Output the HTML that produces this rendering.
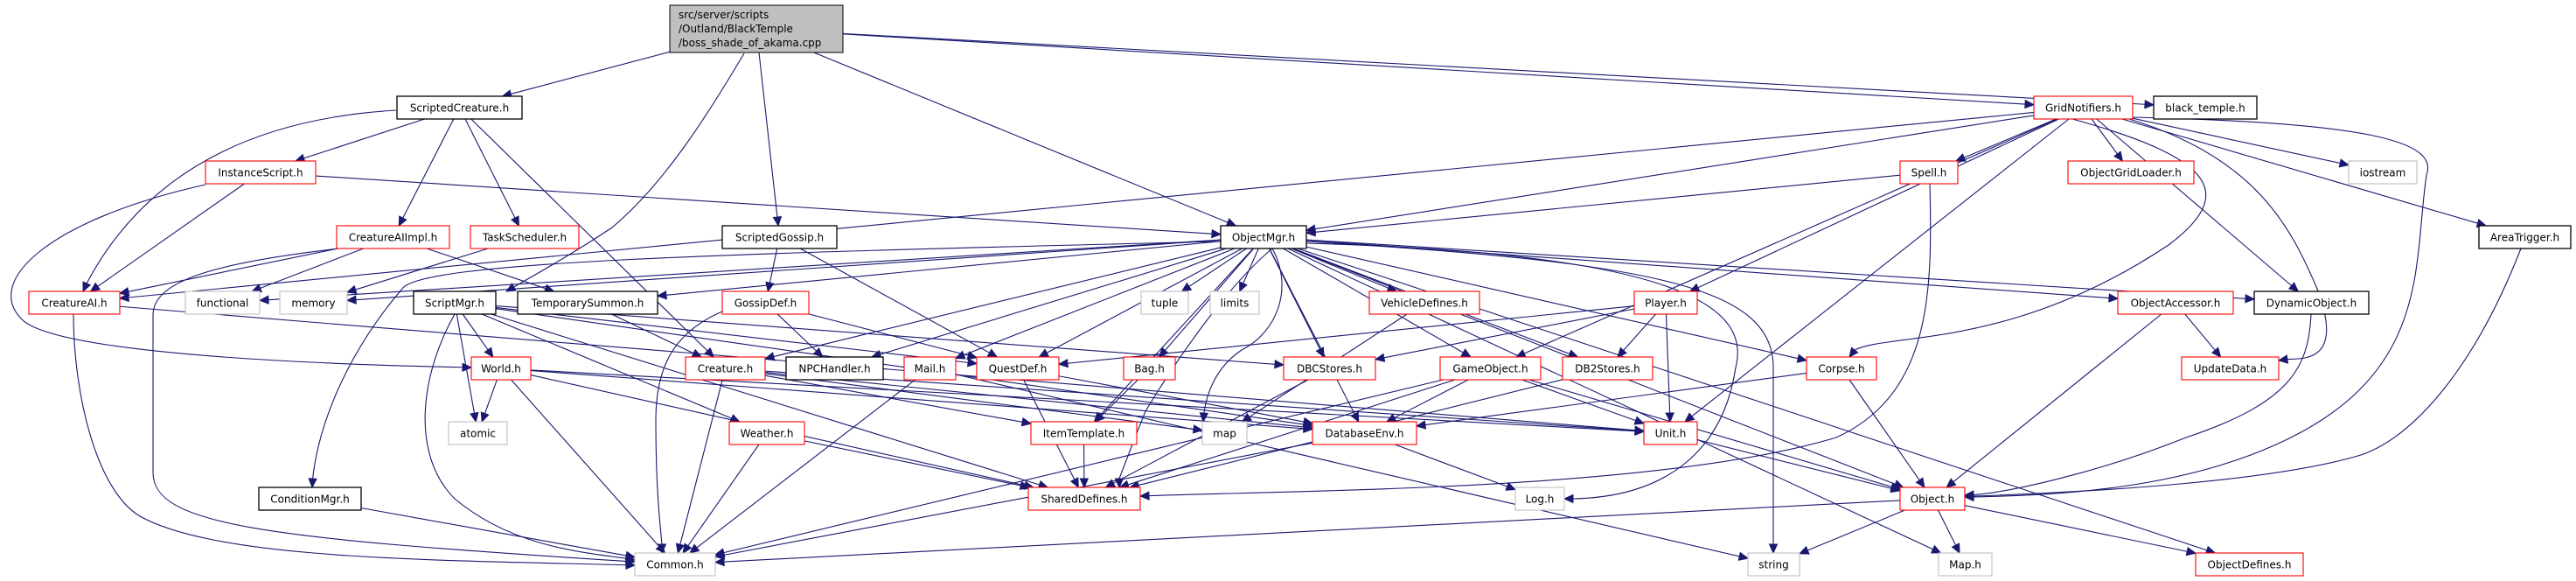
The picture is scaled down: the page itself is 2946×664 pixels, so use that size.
<!DOCTYPE html>
<html><head><meta charset="utf-8">
<style>
html,body{margin:0;padding:0;background:#fff;}
svg{display:block;}
text{font-family:"DejaVu Sans","Liberation Sans",sans-serif;font-size:12px;fill:#000;}
</style></head>
<body>
<svg id="g" width="2946" height="664" viewBox="0 0 2946 664" xmlns="http://www.w3.org/2000/svg">
<g id="edges" fill="none" stroke="#191970" stroke-width="1.1"></g>
<g id="heads" fill="#191970" stroke="#191970"></g>
<g id="boxes"></g>
<rect x="766" y="6" width="198" height="54" fill="#bfbfbf" stroke="#000" stroke-width="1"/>
<text x="776" y="21">src/server/scripts</text>
<text x="776" y="37">/Outland/BlackTemple</text>
<text x="776" y="53">/boss_shade_of_akama.cpp</text>
<g id="labels">
<text id="t_SC">ScriptedCreature.h</text>
<text id="t_IS">InstanceScript.h</text>
<text id="t_CAII">CreatureAIImpl.h</text>
<text id="t_TS">TaskScheduler.h</text>
<text id="t_CAI">CreatureAI.h</text>
<text id="t_fun">functional</text>
<text id="t_mem">memory</text>
<text id="t_SM">ScriptMgr.h</text>
<text id="t_TSum">TemporarySummon.h</text>
<text id="t_World">World.h</text>
<text id="t_atomic">atomic</text>
<text id="t_Cond">ConditionMgr.h</text>
<text id="t_Common">Common.h</text>
<text id="t_SG">ScriptedGossip.h</text>
<text id="t_OM">ObjectMgr.h</text>
<text id="t_tuple">tuple</text>
<text id="t_limits">limits</text>
<text id="t_GD">GossipDef.h</text>
<text id="t_Cre">Creature.h</text>
<text id="t_NPC">NPCHandler.h</text>
<text id="t_Mail">Mail.h</text>
<text id="t_QD">QuestDef.h</text>
<text id="t_Bag">Bag.h</text>
<text id="t_Wea">Weather.h</text>
<text id="t_IT">ItemTemplate.h</text>
<text id="t_map">map</text>
<text id="t_SD">SharedDefines.h</text>
<text id="t_VD">VehicleDefines.h</text>
<text id="t_Player">Player.h</text>
<text id="t_DBC">DBCStores.h</text>
<text id="t_GO">GameObject.h</text>
<text id="t_DB2">DB2Stores.h</text>
<text id="t_Corpse">Corpse.h</text>
<text id="t_DBE">DatabaseEnv.h</text>
<text id="t_Unit">Unit.h</text>
<text id="t_Log">Log.h</text>
<text id="t_string">string</text>
<text id="t_GN">GridNotifiers.h</text>
<text id="t_BT">black_temple.h</text>
<text id="t_Spell">Spell.h</text>
<text id="t_OGL">ObjectGridLoader.h</text>
<text id="t_ios">iostream</text>
<text id="t_AT">AreaTrigger.h</text>
<text id="t_OA">ObjectAccessor.h</text>
<text id="t_DO">DynamicObject.h</text>
<text id="t_UD">UpdateData.h</text>
<text id="t_Obj">Object.h</text>
<text id="t_MapH">Map.h</text>
<text id="t_OD">ObjectDefines.h</text>
</g>
</svg>
<script>
var RY=[0,33,123,197,271,346,421,495,570,645];
var N={
cpp:[766,964,1,'x'],
SC:[454,597,2,'b'],IS:[235,361,3,'r'],CAII:[385,514,4,'r'],TS:[538,662,4,'r'],
CAI:[33,137,5,'r'],fun:[212,297,5,'g'],mem:[320,397,5,'g'],SM:[473,567,5,'b'],TSum:[592,752,5,'b'],
World:[539,607,6,'r'],atomic:[513,580,7,'g'],Cond:[296,413,8,'b'],Common:[726,818,9,'g'],
SG:[826,957,4,'b'],OM:[1396,1494,4,'b'],tuple:[1305,1359,5,'g'],limits:[1384,1440,5,'g'],
GD:[826,925,5,'r'],Cre:[784,875,6,'r'],NPC:[899,1010,6,'b'],Mail:[1034,1093,6,'r'],QD:[1117,1211,6,'r'],
Bag:[1285,1344,6,'r'],Wea:[834,920,7,'r'],IT:[1179,1300,7,'r'],map:[1375,1426,7,'g'],SD:[1176,1304,8,'r'],
VD:[1566,1692,5,'r'],Player:[1869,1941,5,'r'],DBC:[1468,1573,6,'r'],GO:[1647,1762,6,'r'],DB2:[1787,1890,6,'r'],
Corpse:[2066,2146,6,'r'],DBE:[1501,1620,7,'r'],Unit:[1880,1941,7,'r'],Log:[1733,1789,8,'g'],string:[1999,2058,9,'g'],
GN:[2326,2439,2,'r'],BT:[2463,2581,2,'b'],Spell:[2173,2239,3,'r'],OGL:[2365,2509,3,'r'],ios:[2686,2764,3,'g'],
AT:[2835,2940,4,'b'],OA:[2422,2554,5,'r'],DO:[2578,2709,5,'b'],UD:[2495,2606,6,'r'],Obj:[2173,2247,8,'r'],
MapH:[2217,2278,9,'g'],OD:[2511,2634,9,'r']
};
function box(k){var n=N[k];if(k=='cpp')return{x1:766,x2:964,y1:6,y2:60};var c=RY[n[2]];return{x1:n[0],x2:n[1],y1:c-13,y2:c+13};}
var NS='http://www.w3.org/2000/svg';
var B=document.getElementById('boxes');
for(var k in N){if(k=='cpp')continue;var b=box(k),t=N[k][3];
 var r=document.createElementNS(NS,'rect');r.setAttribute('x',b.x1);r.setAttribute('y',b.y1);
 r.setAttribute('width',b.x2-b.x1);r.setAttribute('height',b.y2-b.y1);r.setAttribute('fill','#fff');
 r.setAttribute('stroke',t=='r'?'#ff0000':(t=='g'?'#bfbfbf':'#000'));r.setAttribute('stroke-width',t=='b'?1.3:1.1);
 B.appendChild(r);
 var tx=document.getElementById('t_'+k);tx.setAttribute('x',(b.x1+b.x2)/2);tx.setAttribute('y',RY[N[k][2]]+4.5);tx.setAttribute('text-anchor','middle');}
function clip(b,cx,cy,dx,dy){
 var hw=(b.x2-b.x1)/2,hh=(b.y2-b.y1)/2,t=1e9;
 if(dx!=0)t=Math.min(t,hw/Math.abs(dx));if(dy!=0)t=Math.min(t,hh/Math.abs(dy));return[cx+dx*t,cy+dy*t];}
var E=document.getElementById('edges'),H=document.getElementById('heads');
function head(px,py,x,y){var dx=x-px,dy=y-py,L=Math.hypot(dx,dy)||1;dx/=L;dy/=L;
 var bx=x-dx*10,by=y-dy*10,nx=-dy*4.5,ny=dx*4.5;
 var p=document.createElementNS(NS,'polygon');p.setAttribute('points',x+','+y+' '+(bx+nx)+','+(by+ny)+' '+(bx-nx)+','+(by-ny));H.appendChild(p);
 return[bx,by];}
function path(d){var p=document.createElementNS(NS,'path');p.setAttribute('d',d);E.appendChild(p);}
function edge(a,b){var A=box(a),Bb=box(b);var ax=(A.x1+A.x2)/2,ay=(A.y1+A.y2)/2,bx=(Bb.x1+Bb.x2)/2,by=(Bb.y1+Bb.y2)/2;
 var dx=bx-ax,dy=by-ay;var s=clip(A,ax,ay,dx,dy),e=clip(Bb,bx,by,-dx,-dy);
 var q=head(s[0],s[1],e[0],e[1]);path('M'+s[0]+','+s[1]+' L'+q[0]+','+q[1]);}
function curve(d,px,py,x,y){var q=head(px,py,x,y);path(d+' '+q[0]+','+q[1]);}
var S=[['cpp','SC'],['cpp','SG'],['cpp','OM'],['cpp','GN'],['cpp','BT'],
['SC','IS'],['SC','CAII'],['SC','TS'],['SC','Cre'],['IS','CAI'],['IS','OM'],
['CAII','CAI'],['CAII','fun'],['CAII','TSum'],['TS','mem'],
['OM','mem'],['OM','fun'],['OM','TSum'],['OM','Cre'],['OM','NPC'],['OM','Mail'],['OM','QD'],['OM','IT'],['OM','tuple'],['OM','limits'],['OM','Bag'],['OM','VD'],['OM','GO'],['OM','DB2'],['OM','DBC'],['OM','Corpse'],['OM','Obj'],['OM','OA'],['OM','DO'],['OM','MapH'],['OM','OD'],['OM','DBE'],
['SG','GD'],['SG','QD'],['GD','NPC'],['GD','QD'],
['SM','World'],['SM','atomic'],['SM','Wea'],['SM','SD'],['SM','QD'],['SM','DBC'],['SM','DBE'],['TSum','Cre'],
['World','atomic'],['World','Common'],['World','SD'],['World','DBE'],['World','Unit'],
['Cre','Common'],['Cre','IT'],['Cre','map'],['Cre','DBE'],['Cre','Unit'],
['Mail','Common'],['Mail','string'],['QD','DBE'],['QD','SD'],['Bag','IT'],['IT','SD'],['Wea','Common'],['Wea','SD'],['Cond','Common'],
['DBC','SD'],['VD','map'],['Player','QD'],['Player','DBC'],['Player','DB2'],['Player','Unit'],
['GO','DBE'],['GO','SD'],['GO','Common'],['GO','Unit'],['GO','Obj'],['DB2','SD'],['Corpse','DBE'],['Corpse','Obj'],
['DBE','Log'],['DBE','Common'],['Unit','Obj'],['Obj','Common'],['Obj','string'],['Obj','MapH'],['Obj','OD'],
['GN','Spell'],['GN','OGL'],['GN','ios'],['GN','AT'],['GN','OM'],['GN','CAI'],['GN','Player'],['GN','GO'],['GN','Unit'],['GN','DO'],
['Spell','OM'],['OA','UD'],['OA','Obj'],['CAI','Unit']];
S.forEach(function(e){edge(e[0],e[1]);});
curve('M851,61 C810,130 760,210 700,260 C640,300 600,320',588,328,579,333);
curve('M453,126 C300,135 170,190',110,300,95,333);
curve('M235,211 C60,250 -20,320 25,365 C60,400 300,415',500,419,539,420);
curve('M388,284 C250,300 175,320 175,360 L175,540 C175,600 300,615',690,640,726,642);
curve('M84,359 C84,450 110,560 160,590 C250,640 500,640',690,645,726,646);
curve('M1396,276 C800,290 480,300 460,330 C400,400 365,480',358,540,357,557);
curve('M2435,136 C2580,180 2620,260 2650,330 C2680,410 2640,410',2620,410,2606,412);
curve('M2439,134 C2700,140 2790,160 2775,200 C2760,300 2780,420 2620,500 C2500,560 2350,566',2270,568,2247,568);
curve('M2370,136 C2530,180 2560,220 2480,280 C2300,400 2160,380',2125,395,2115,408);
curve('M1494,278 C1950,290 2000,360 1985,420 C1970,520 1900,568',1810,570,1789,570);
curve('M1494,276 C1900,300 2028,330 2028,420 L2028,600',2028,610,2028,632);
curve('M1455,284 C1480,330 1460,380 1420,400 C1390,420 1380,450',1377,470,1376,482);
curve('M2643,359 C2640,420 2620,460 2500,500 C2400,540 2300,562',2270,565,2247,566);
curve('M2883,284 C2830,420 2760,500 2700,520 C2600,550 2400,562',2270,567,2247,567);
curve('M2207,210 C2210,330 2210,450 2100,500 C1900,560 1500,560',1330,566,1304,567);
curve('M1455,284 C1400,330 1340,420 1310,470 L1300,495',1280,540,1280,557);
curve('M826,356 C770,380 750,420 750,480 C750,560 755,600',757,620,757,632);
curve('M520,359 C480,430 470,520 520,570 C580,620 650,630',705,636,726,640);
</script>
</body></html>
